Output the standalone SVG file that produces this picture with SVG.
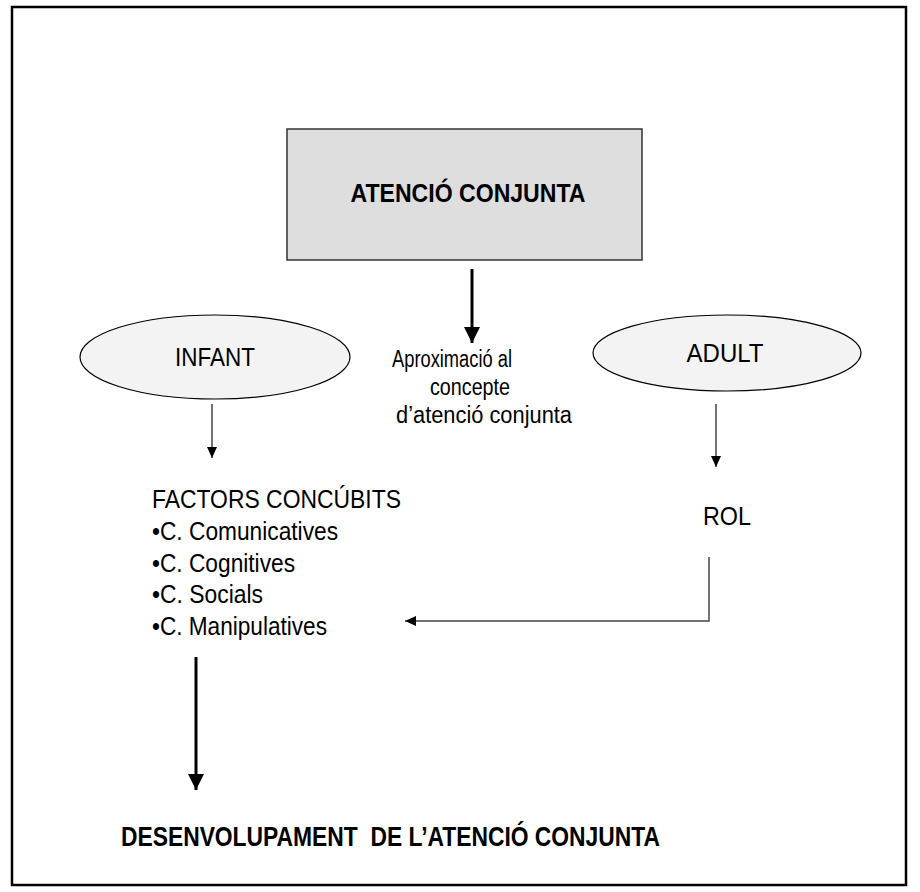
<svg xmlns="http://www.w3.org/2000/svg" width="920" height="892" viewBox="0 0 920 892">
  <style>
    .t { font-family: "Liberation Sans", Arial, sans-serif; fill: #000; }
    .reg { font-size: 25px; }
    .mid { font-size: 23px; }
    .bold { font-weight: bold; }
    .thick { stroke: #000; stroke-width: 3; fill: none; }
    .thin { stroke: #444; stroke-width: 1.5; fill: none; }
    .ell { fill: #f3f3f3; stroke: #000; stroke-width: 1.2; }
  </style>
  <defs>
    <marker id="headBig" markerUnits="userSpaceOnUse" markerWidth="16" markerHeight="16" viewBox="0 0 16 16" refX="16" refY="8" orient="auto">
      <path d="M0,0 L16,8 L0,16 Z" fill="#000"/>
    </marker>
    <marker id="headSmall" markerUnits="userSpaceOnUse" markerWidth="11" markerHeight="10" viewBox="0 0 11 10" refX="11" refY="5" orient="auto">
      <path d="M0,0 L11,5 L0,10 Z" fill="#000"/>
    </marker>
  </defs>

  <!-- page frame -->
  <rect x="12" y="7" width="894" height="878" fill="#fff" stroke="#000" stroke-width="2.5"/>

  <g id="atencio-conjunta">
    <rect x="287" y="129" width="355" height="131" fill="#dedede" stroke="#333" stroke-width="1.5"/>
    <text class="t bold" x="468" y="202" font-size="25" text-anchor="middle" textLength="235" lengthAdjust="spacingAndGlyphs">ATENCIÓ CONJUNTA</text>
  </g>

  <g id="aproximacio">
    <text class="t mid" x="392" y="367" textLength="120" lengthAdjust="spacingAndGlyphs">Aproximació al</text>
    <text class="t mid" x="430" y="395" textLength="80" lengthAdjust="spacingAndGlyphs">concepte</text>
    <text class="t mid" x="396" y="423" textLength="176" lengthAdjust="spacingAndGlyphs">d’atenció conjunta</text>
  </g>

  <g id="infant">
    <ellipse class="ell" cx="215" cy="357" rx="135" ry="42"/>
    <text class="t reg" x="215" y="366" text-anchor="middle" textLength="80" lengthAdjust="spacingAndGlyphs">INFANT</text>
  </g>

  <g id="adult">
    <ellipse class="ell" cx="727" cy="353" rx="134" ry="38"/>
    <text class="t reg" x="725" y="362" text-anchor="middle" textLength="77" lengthAdjust="spacingAndGlyphs">ADULT</text>
  </g>

  <g id="factors">
    <text class="t reg" x="152" y="508" textLength="249" lengthAdjust="spacingAndGlyphs">FACTORS CONCÚBITS</text>
    <text class="t reg" x="152" y="540" textLength="186" lengthAdjust="spacingAndGlyphs">•C. Comunicatives</text>
    <text class="t reg" x="152" y="572" textLength="143" lengthAdjust="spacingAndGlyphs">•C. Cognitives</text>
    <text class="t reg" x="152" y="603" textLength="111" lengthAdjust="spacingAndGlyphs">•C. Socials</text>
    <text class="t reg" x="152" y="635" textLength="175" lengthAdjust="spacingAndGlyphs">•C. Manipulatives</text>
  </g>

  <g id="rol">
    <text class="t reg" x="703" y="525" textLength="48" lengthAdjust="spacingAndGlyphs">ROL</text>
  </g>

  <g id="desenvolupament">
    <text class="t bold" x="121" y="846" font-size="27" textLength="539" lengthAdjust="spacingAndGlyphs" xml:space="preserve">DESENVOLUPAMENT  DE L’ATENCIÓ CONJUNTA</text>
  </g>

  <g id="connectors">
    <line class="thick" x1="472" y1="269" x2="472" y2="343" marker-end="url(#headBig)"/>
    <line class="thin" x1="212" y1="404" x2="212" y2="458" marker-end="url(#headSmall)"/>
    <line class="thin" x1="716" y1="404" x2="716" y2="467" marker-end="url(#headSmall)"/>
    <polyline class="thin" points="709,557 709,621 405,621" stroke="#222" marker-end="url(#headSmall)"/>
    <line class="thick" x1="196" y1="657" x2="196" y2="790" marker-end="url(#headBig)"/>
  </g>
</svg>
